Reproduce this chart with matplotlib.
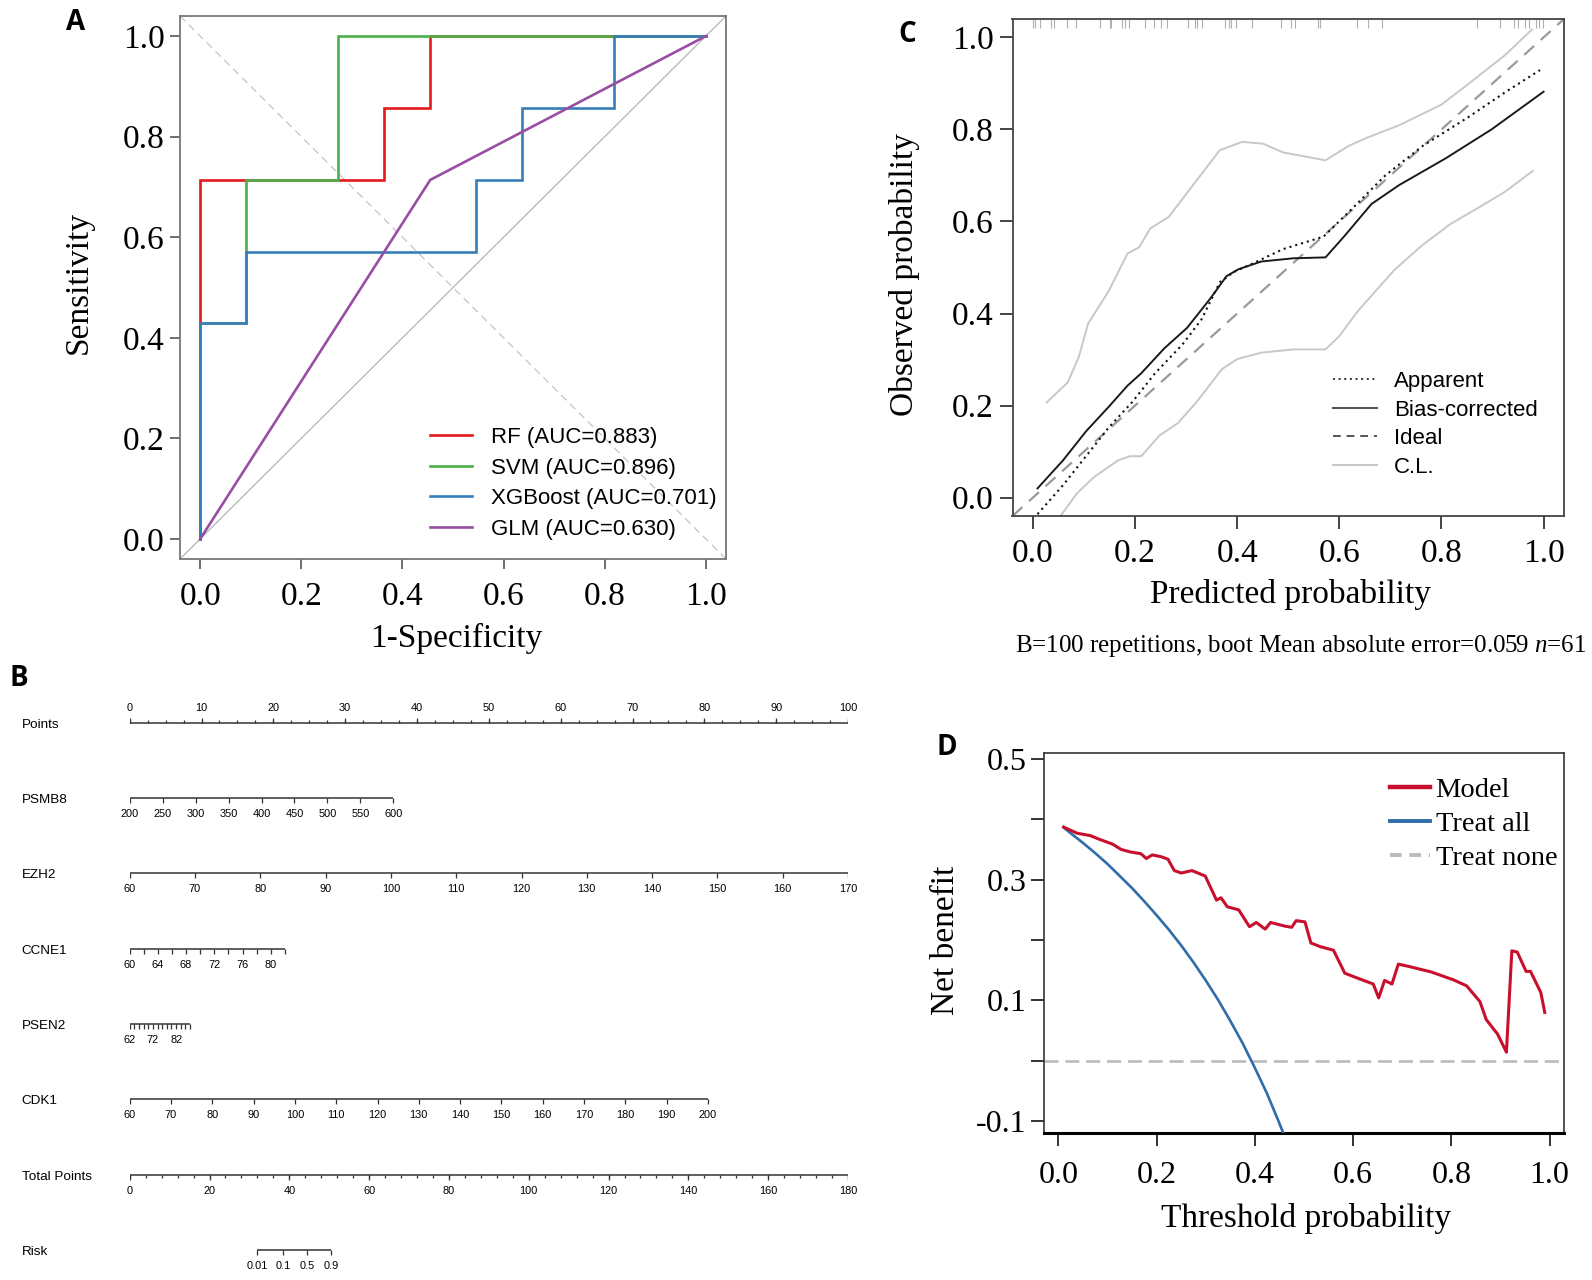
import matplotlib
matplotlib.use('Agg')
import matplotlib.pyplot as plt
import numpy as np

W, H = 1592, 1280
plt.rcParams['axes.unicode_minus'] = False
plt.rcParams['mathtext.fontset'] = 'custom'
plt.rcParams['mathtext.rm'] = 'Liberation Serif'
plt.rcParams['mathtext.it'] = 'Liberation Serif:italic'
SERIF = 'Liberation Serif'
SANS = 'Liberation Sans'

# ---------------- Panel A data (ROC) ----------------
roc_labels = ['RF (AUC=0.883)', 'SVM (AUC=0.896)', 'XGBoost (AUC=0.701)', 'GLM (AUC=0.630)']
roc_colors = ['#E41A1C', '#4DAF4A', '#377EB8', '#984EA3']
rf_fpr = [0.0, 0.0, 0.364, 0.364, 0.455, 0.455, 1.0]
rf_tpr = [0.0, 0.714, 0.714, 0.857, 0.857, 1.0, 1.0]
svm_fpr = [0.0, 0.0, 0.091, 0.091, 0.273, 0.273, 1.0]
svm_tpr = [0.0, 0.429, 0.429, 0.714, 0.714, 1.0, 1.0]
xgb_fpr = [0.0, 0.0, 0.091, 0.091, 0.545, 0.545, 0.636, 0.636, 0.818, 0.818, 1.0]
xgb_tpr = [0.0, 0.429, 0.429, 0.571, 0.571, 0.714, 0.714, 0.857, 0.857, 1.0, 1.0]
glm_fpr = [0.0, 0.455, 1.0]
glm_tpr = [0.0, 0.714, 1.0]
prob_ticks = [0.0, 0.2, 0.4, 0.6, 0.8, 1.0]
prob_ticklabels = ['0.0', '0.2', '0.4', '0.6', '0.8', '1.0']

# ---------------- Panel C data (calibration) ----------------
app_x = [0.009, 0.059, 0.104, 0.149, 0.194, 0.239, 0.293, 0.33, 0.366, 0.393, 0.429, 0.49, 0.569, 0.627, 0.69, 0.763, 0.853, 0.925, 0.993]
app_y = [-0.036, 0.027, 0.09, 0.153, 0.207, 0.27, 0.333, 0.387, 0.468, 0.49, 0.508, 0.54, 0.567, 0.63, 0.70, 0.764, 0.827, 0.881, 0.929]
bc_x = [0.009, 0.059, 0.104, 0.149, 0.185, 0.212, 0.257, 0.302, 0.347, 0.379, 0.402, 0.447, 0.51, 0.573, 0.609, 0.663, 0.717, 0.808, 0.898, 1.0]
bc_y = [0.02, 0.081, 0.144, 0.198, 0.243, 0.27, 0.324, 0.369, 0.432, 0.481, 0.496, 0.513, 0.52, 0.522, 0.567, 0.638, 0.679, 0.737, 0.80, 0.882]
clu_x = [0.027, 0.068, 0.09, 0.108, 0.149, 0.185, 0.208, 0.23, 0.266, 0.31, 0.366, 0.41, 0.451, 0.49, 0.573, 0.618, 0.654, 0.717, 0.80, 0.853, 0.925, 0.977]
clu_y = [0.207, 0.25, 0.306, 0.378, 0.45, 0.53, 0.544, 0.585, 0.61, 0.674, 0.755, 0.773, 0.769, 0.75, 0.733, 0.764, 0.782, 0.809, 0.854, 0.899, 0.962, 1.017]
cll_x = [0.054, 0.086, 0.12, 0.167, 0.19, 0.212, 0.248, 0.284, 0.32, 0.37, 0.40, 0.447, 0.51, 0.573, 0.60, 0.636, 0.672, 0.708, 0.763, 0.817, 0.871, 0.925, 0.979]
cll_y = [-0.04, 0.009, 0.045, 0.081, 0.09, 0.09, 0.135, 0.162, 0.207, 0.279, 0.301, 0.315, 0.322, 0.322, 0.351, 0.405, 0.45, 0.495, 0.549, 0.594, 0.629, 0.665, 0.71]
rug_x = [0.0, 0.005, 0.014, 0.035, 0.042, 0.066, 0.084, 0.132, 0.15, 0.153, 0.174, 0.18, 0.188,
         0.22, 0.237, 0.25, 0.262, 0.304, 0.318, 0.321, 0.332, 0.377, 0.383, 0.387, 0.398,
         0.429, 0.485, 0.506, 0.513, 0.558, 0.562, 0.635, 0.656, 0.684, 0.869, 0.915, 0.943,
         0.95, 0.964, 0.971, 0.985, 0.992, 0.999]
cal_legend = ['Apparent', 'Bias-corrected', 'Ideal', 'C.L.']
cal_caption = r'B=100 repetitions, boot Mean absolute error=0.059 $\mathit{n}$=61'

# ---------------- Panel D data (decision curve) ----------------
model_thr = [0.011, 0.038, 0.065, 0.083, 0.11, 0.128, 0.146, 0.168, 0.179, 0.191, 0.209, 0.223, 0.236, 0.25,
             0.272, 0.299, 0.322, 0.331, 0.344, 0.367, 0.389, 0.403, 0.421, 0.432, 0.461, 0.475, 0.484, 0.502,
             0.514, 0.533, 0.56, 0.583, 0.605, 0.641, 0.652, 0.664, 0.679, 0.692, 0.714, 0.759, 0.804, 0.831,
             0.858, 0.871, 0.894, 0.912, 0.923, 0.934, 0.952, 0.961, 0.982, 0.99]
model_nb = [0.387, 0.377, 0.373, 0.367, 0.359, 0.350, 0.346, 0.343, 0.335, 0.341, 0.338, 0.334, 0.315, 0.311,
            0.315, 0.306, 0.266, 0.27, 0.255, 0.25, 0.222, 0.229, 0.218, 0.229, 0.223, 0.221, 0.232, 0.23,
            0.195, 0.189, 0.183, 0.145, 0.138, 0.127, 0.104, 0.133, 0.127, 0.16, 0.156, 0.147, 0.134, 0.124,
            0.098, 0.068, 0.044, 0.014, 0.182, 0.18, 0.148, 0.148, 0.113, 0.08]
all_thr = [0.01, 0.025, 0.05, 0.075, 0.1, 0.125, 0.15, 0.175, 0.2, 0.225, 0.25, 0.275, 0.3, 0.325,
           0.35, 0.375, 0.4, 0.425, 0.45, 0.47]
all_nb = [0.387, 0.377, 0.361, 0.344, 0.326, 0.306, 0.286, 0.264, 0.241, 0.217, 0.191, 0.163, 0.133, 0.101,
          0.066, 0.029, -0.012, -0.055, -0.104, -0.145]
dca_legend = ['Model', 'Treat all', 'Treat none']
dca_yticks = [-0.1, 0.0, 0.1, 0.2, 0.3, 0.4, 0.5]
dca_yticklabels = ['-0.1', '', '0.1', '', '0.3', '', '0.5']

# ---------------- Panel B data (nomogram) ----------------
nomo_rows = ['Points', 'PSMB8', 'EZH2', 'CCNE1', 'PSEN2', 'CDK1', 'Total Points', 'Risk']
points_major = [0, 10, 20, 30, 40, 50, 60, 70, 80, 90, 100]
psmb8_ticks = [200, 250, 300, 350, 400, 450, 500, 550, 600]
psmb8_labels = [200, 250, 300, 350, 400, 450, 500, 550, 600]
psmb8_pts = [0.0, 36.7]
ezh2_ticks = [60, 70, 80, 90, 100, 110, 120, 130, 140, 150, 160, 170]
ezh2_labels = [60, 70, 80, 90, 100, 110, 120, 130, 140, 150, 160, 170]
ezh2_pts = [0.0, 100.0]
ccne1_ticks = [60, 62, 64, 66, 68, 70, 72, 74, 76, 78, 80, 82]
ccne1_labels = [60, 64, 68, 72, 76, 80]
ccne1_pts = [0.0, 21.6]
psen2_ticks = [62, 64, 66, 68, 70, 72, 74, 76, 78, 80, 82, 84, 86, 88]
psen2_labels = [62, 72, 82]
psen2_pts = [0.0, 8.4]
cdk1_ticks = [60, 70, 80, 90, 100, 110, 120, 130, 140, 150, 160, 170, 180, 190, 200]
cdk1_labels = [60, 70, 80, 90, 100, 110, 120, 130, 140, 150, 160, 170, 180, 190, 200]
cdk1_pts = [0.0, 80.5]
total_major = [0, 20, 40, 60, 80, 100, 120, 140, 160, 180]
total_max = 180
risk_labels = ['0.01', '0.1', '0.5', '0.9']
risk_total = [32.0, 38.5, 44.55, 50.5]


def fxp(px):
    return px / W


def fyp(py):
    return 1 - py / H


fig = plt.figure(figsize=(W / 100, H / 100), dpi=100)

# ================= Panel A =================
axA = fig.add_axes([fxp(180), fyp(559), (726 - 180) / W, (559 - 16) / H])
axA.set_xlim(-0.04, 1.04)
axA.set_ylim(-0.04, 1.04)
axA.axline((0, 0), (1, 1), color='#B4B4B4', lw=0.9, zorder=1)
axA.axline((0, 1), (1, 0), color='#C4C4C4', lw=0.9, ls=(0, (6, 4)), zorder=1)
for fx_, ty_, lab, col in zip([rf_fpr, svm_fpr, xgb_fpr, glm_fpr], [rf_tpr, svm_tpr, xgb_tpr, glm_tpr],
                              roc_labels, roc_colors):
    axA.plot(fx_, ty_, color=col, lw=1.9, label=lab, zorder=3, solid_joinstyle='miter')
axA.set_xticks(prob_ticks)
axA.set_xticklabels(prob_ticklabels, fontfamily=SERIF, fontsize=24)
axA.set_yticks(prob_ticks)
axA.set_yticklabels(prob_ticklabels, fontfamily=SERIF, fontsize=24)
axA.tick_params(axis='both', direction='out', length=7, width=1.2, color='#555555')
axA.tick_params(axis='x', pad=9.5)
axA.tick_params(axis='y', pad=4)
for s in axA.spines.values():
    s.set_color('#777777')
    s.set_linewidth(1.3)
axA.legend(loc='upper left', bbox_to_anchor=(fxp(430), fyp(427)), bbox_transform=fig.transFigure,
           frameon=False, prop={'family': SANS, 'size': 16}, handlelength=1.9, handletextpad=0.85,
           labelspacing=0.43, borderpad=0, borderaxespad=0)
fig.text(fxp(456), fyp(638), '1-Specificity', fontfamily=SERIF, fontsize=24, ha='center', va='center')
fig.text(fxp(78), fyp(282), 'Sensitivity', fontfamily=SERIF, fontsize=24, ha='center', va='center',
         rotation=90)

# ================= Panel C =================
axC = fig.add_axes([fxp(1012.5), fyp(516), (1564 - 1012.5) / W, (516 - 19) / H])
axC.set_xlim(-0.04, 1.04)
axC.set_ylim(-0.04, 1.04)
axC.plot(clu_x, clu_y, color='#C8C8C8', lw=1.4, zorder=2)
axC.plot(cll_x, cll_y, color='#C8C8C8', lw=1.4, zorder=2)
axC.axline((0, 0), (1, 1), color='#9A9A9A', lw=1.6, dashes=(6, 4), zorder=2)
axC.plot(app_x, app_y, color='#111111', lw=1.5, dashes=(1, 1.9), zorder=3)
axC.plot(bc_x, bc_y, color='#1A1A1A', lw=1.4, zorder=3)
axC.vlines(rug_x, 1 - 9 / 497, 1, transform=axC.get_xaxis_transform(), color='#B0B0B0', lw=0.8)
axC.set_xticks(prob_ticks)
axC.set_xticklabels(prob_ticklabels, fontfamily=SERIF, fontsize=24)
axC.set_yticks(prob_ticks)
axC.set_yticklabels(prob_ticklabels, fontfamily=SERIF, fontsize=24)
axC.tick_params(axis='both', direction='out', length=9.5, width=1.4, color='#444444')
axC.tick_params(axis='x', pad=6.5)
axC.tick_params(axis='y', pad=4)
for s in axC.spines.values():
    s.set_color('#444444')
    s.set_linewidth(1.3)
hC = [plt.Line2D([], [], color='#333333', lw=1.4, dashes=(1, 1.9)),
      plt.Line2D([], [], color='#555555', lw=1.5),
      plt.Line2D([], [], color='#555555', lw=1.4, dashes=(4, 3)),
      plt.Line2D([], [], color='#C8C8C8', lw=1.5)]
axC.legend(hC, cal_legend, loc='upper left', bbox_to_anchor=(fxp(1333), fyp(371)),
           bbox_transform=fig.transFigure, frameon=False, prop={'family': SANS, 'size': 16},
           handlelength=2.0, handletextpad=0.75, labelspacing=0.34, borderpad=0, borderaxespad=0)
fig.text(fxp(904.5), fyp(275), 'Observed probability', fontfamily=SERIF, fontsize=24, ha='center',
         va='center', rotation=90)
fig.text(fxp(1290), fyp(594), 'Predicted probability', fontfamily=SERIF, fontsize=24, ha='center',
         va='center')
fig.text(fxp(1301), fyp(646), cal_caption, fontfamily=SERIF, fontsize=18, ha='center', va='center')

# ================= Panel D =================
axD = fig.add_axes([fxp(1044), fyp(1133), (1564 - 1044) / W, (1133 - 753) / H])
axD.set_xlim(-0.0292, 1.0292)
axD.set_ylim(-0.1199, 0.5099)
axD.axhline(0, color='#BBBBBB', lw=1.9, dashes=(5.3, 2.6), zorder=2)
axD.plot(all_thr, all_nb, color='#2F6DA8', lw=1.9, zorder=3)
axD.plot(model_thr, model_nb, color='#C8102E', lw=2.2, zorder=4)
axD.set_xticks(prob_ticks)
axD.set_xticklabels(prob_ticklabels, fontfamily=SERIF, fontsize=23)
axD.set_yticks(dca_yticks)
axD.set_yticklabels(dca_yticklabels, fontfamily=SERIF, fontsize=23)
axD.tick_params(axis='both', direction='out', length=9.5, width=1.4, color='#333333')
axD.tick_params(axis='x', pad=11)
axD.tick_params(axis='y', pad=3)
for k, s in axD.spines.items():
    s.set_color('#333333')
    s.set_linewidth(1.2)
axD.spines['bottom'].set_color('#000000')
axD.spines['bottom'].set_linewidth(2.2)
hD = [plt.Line2D([], [], color='#C8102E', lw=3.2),
      plt.Line2D([], [], color='#2F6DA8', lw=2.8),
      plt.Line2D([], [], color='#BBBBBB', lw=2.8, dashes=(3, 2))]
axD.legend(hD, dca_legend, loc='upper left', bbox_to_anchor=(fxp(1390), fyp(777)),
           bbox_transform=fig.transFigure, frameon=False, prop={'family': SERIF, 'size': 20.5},
           handlelength=1.4, handletextpad=0.2, labelspacing=0.28, borderpad=0, borderaxespad=0)
fig.text(fxp(946), fyp(940), 'Net benefit', fontfamily=SERIF, fontsize=24, ha='center', va='center',
         rotation=90)
fig.text(fxp(1306), fyp(1218), 'Threshold probability', fontfamily=SERIF, fontsize=24, ha='center',
         va='center')

# ================= Panel B (nomogram) =================
row_px = 75.3
top_row_px = 722.7
y_lo, y_hi = -0.5, 7.3
axB = fig.add_axes([fxp(129.7), fyp(top_row_px + row_px * y_hi), (848 - 129.7) / W,
                    row_px * (y_hi - y_lo) / H])
axB.set_xlim(0, 100)
axB.set_ylim(y_hi, y_lo)
axB.axis('off')
line_col = '#333333'
tk_major = 5.0 / row_px
tk_minor = 3.0 / row_px
lab_off = 16.0 / row_px
px_per_pt = (848 - 129.7) / 100
label_x = (21.7 - 129.7) / px_per_pt
tick_fs = 7.9
name_fs = 9.7

for i, name in enumerate(nomo_rows):
    axB.text(label_x, i + 2 / row_px, name, fontfamily=SANS, fontsize=name_fs, ha='left', va='center',
             clip_on=False)

# Points row (ticks upward, labels above)
minor_pts = np.arange(0, 100.01, 2.5)
axB.plot([0, 100], [0, 0], color=line_col, lw=1.1, solid_capstyle='butt')
axB.vlines(minor_pts, 0 - tk_minor, 0, color=line_col, lw=0.9)
axB.vlines(points_major, 0 - tk_major, 0, color=line_col, lw=0.9)
for p in points_major:
    axB.text(p, 0 - 14.5 / row_px, str(p), fontfamily=SANS, fontsize=tick_fs, ha='center', va='center')


def var_axis(row, ticks, labels, pts):
    v0, v1 = ticks[0], ticks[-1]
    to_pts = lambda v: pts[0] + (v - v0) / (v1 - v0) * (pts[1] - pts[0])
    tp = [to_pts(v) for v in ticks]
    axB.plot([tp[0], tp[-1]], [row, row], color=line_col, lw=1.1, solid_capstyle='butt')
    axB.vlines(tp, row, row + tk_major, color=line_col, lw=0.9)
    for v in labels:
        axB.text(to_pts(v), row + lab_off, str(v), fontfamily=SANS, fontsize=tick_fs, ha='center',
                 va='center')


var_axis(1, psmb8_ticks, psmb8_labels, psmb8_pts)
var_axis(2, ezh2_ticks, ezh2_labels, ezh2_pts)
var_axis(3, ccne1_ticks, ccne1_labels, ccne1_pts)
var_axis(4, psen2_ticks, psen2_labels, psen2_pts)
var_axis(5, cdk1_ticks, cdk1_labels, cdk1_pts)

# Total points row
scale_tot = 100.0 / total_max
tot_minor = np.arange(0, total_max + 0.01, 4)
axB.plot([0, 100], [6, 6], color=line_col, lw=1.1, solid_capstyle='butt')
axB.vlines(tot_minor * scale_tot, 6, 6 + tk_minor, color=line_col, lw=0.9)
axB.vlines(np.array(total_major) * scale_tot, 6, 6 + tk_major, color=line_col, lw=0.9)
for t in total_major:
    axB.text(t * scale_tot, 6 + lab_off, str(t), fontfamily=SANS, fontsize=tick_fs, ha='center', va='center')

# Risk row
rpos = np.array(risk_total) * scale_tot
axB.plot([rpos[0], rpos[-1]], [7, 7], color=line_col, lw=1.1, solid_capstyle='butt')
axB.vlines(rpos, 7, 7 + tk_major, color=line_col, lw=0.9)
for r, lab in zip(rpos, risk_labels):
    axB.text(r, 7 + lab_off, lab, fontfamily=SANS, fontsize=tick_fs, ha='center', va='center')

# ================= Panel letters =================
for lab, (px, py) in zip(['A', 'B', 'C', 'D'], [(75.8, 22.4), (18.8, 678.5), (907, 34), (946.8, 747.5)]):
    fig.text(fxp(px), fyp(py), lab, fontfamily='Open Sans', fontweight='bold', fontsize=20,
             ha='center', va='center')

fig.savefig('out.png', dpi=100)
